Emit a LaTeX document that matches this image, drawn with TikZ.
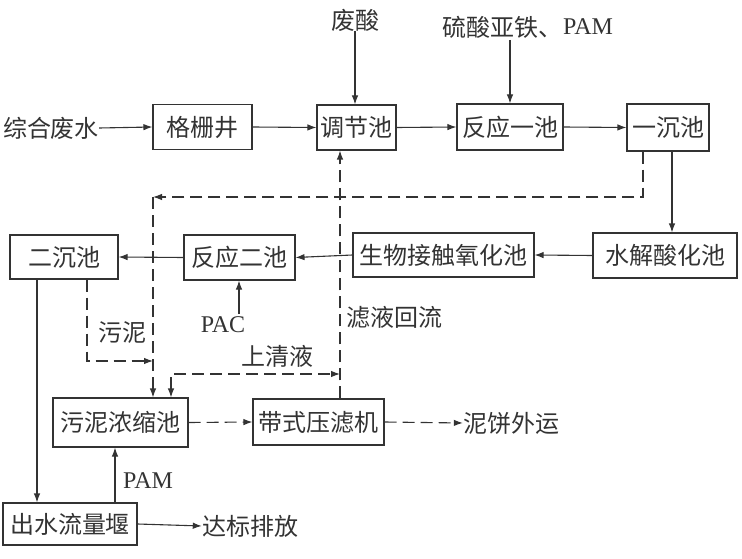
\documentclass[tikz,border=0pt]{standalone}
\usepackage{fontspec}
\setmainfont{Liberation Serif}
\newfontfamily\cjk{Noto Sans CJK SC}
\usetikzlibrary{arrows.meta}
\definecolor{ink}{HTML}{333333}
\tikzset{
  box/.style={draw=ink, line width=1.1pt, inner sep=0pt, text=ink,
    font=\cjk\fontsize{24}{26}\selectfont},
  lbl/.style={inner sep=0pt, text=ink, font=\cjk\fontsize{24}{26}\selectfont},
  latl/.style={inner sep=0pt, text=ink, font=\fontsize{24}{26}\selectfont},
  flow/.style={draw=ink, line width=1.1pt, -{Latex[length=9pt,width=6.5pt]}},
  dflow/.style={flow, dash pattern=on 12pt off 6pt},
}
\begin{document}
\begin{tikzpicture}[x=1pt,y=-1pt]
\useasboundingbox (0,0) rectangle (742,559);
% boxes
\node[box, minimum width=99pt, minimum height=45pt] (gs) at (202.5,127) {格栅井};
\node[box, minimum width=79pt, minimum height=45pt] (tj) at (356.5,127.5) {调节池};
\node[box, minimum width=106pt, minimum height=46pt] (fy1) at (510,127) {反应一池};
\node[box, minimum width=82pt, minimum height=47pt] (yc) at (668,127.5) {一沉池};
\node[box, minimum width=144pt, minimum height=45pt] (sj) at (665,255.5) {水解酸化池};
\node[box, minimum width=181pt, minimum height=44pt] (sw) at (443.5,255) {生物接触氧化池};
\node[box, minimum width=111pt, minimum height=45pt] (fy2) at (239.5,257.5) {反应二池};
\node[box, minimum width=108pt, minimum height=44pt] (ec) at (64,257) {二沉池};
\node[box, minimum width=135pt, minimum height=49pt] (wn) at (120.5,422.5) {污泥浓缩池};
\node[box, minimum width=131pt, minimum height=46pt] (dy) at (318.5,422) {带式压滤机};
\node[box, minimum width=134pt, minimum height=42pt] (cs) at (70,524) {出水流量堰};
% labels
\node[lbl] (zh) at (51,128) {综合废水};
\node[lbl] (fs) at (355,20) {废酸};
\node[lbl, anchor=east] (ls) at (563,27) {硫酸亚铁、};
\node[latl, anchor=west] (lp) at (ls.east) {PAM};
\coordinate (lstop) at (510,40);
\node[latl] (pac) at (223,325) {PAC};
\coordinate (pacs) at (239,314);
\node[lbl] (wnl) at (122,333) {污泥};
\node[lbl] (sql) at (277,356) {上清液};
\node[lbl] (lyl) at (394,317) {滤液回流};
\node[lbl] (nb) at (511,423) {泥饼外运};
\node[latl] (pam2) at (148,481) {PAM};
\node[lbl] (db) at (250,526) {达标排放};
% coordinates for bends
\coordinate (c1) at (643,197);
\coordinate (c2) at (153,197);
\coordinate (c3) at (87,361);
\coordinate (c4) at (153,361);
\coordinate (c5) at (171,374);
\coordinate (c6) at (340,374);
% main flow
\draw[flow] (zh.east) -- (gs.west);
\draw[flow] (gs.east) -- (tj.west);
\draw[flow] (tj.east) -- (fy1.west);
\draw[flow] (fy1.east) -- (yc.west);
\draw[flow] (fs.south) -- (fs.south |- tj.north);
\draw[flow] (lstop) -- (lstop |- fy1.north);
\draw[flow] (yc.south -| 672,0) -- (sj.north -| 672,0);
\draw[flow] (sj.west) -- (sw.east);
\draw[flow] (sw.west) -- (fy2.east);
\draw[flow] (fy2.west) -- (ec.west -| ec.east);
\draw[flow] (pacs) -- (pacs |- fy2.south);
\draw[flow] (ec.south -| 37,0) -- (cs.north -| 37,0);
\draw[flow] (cs.north -| 115,0) -- (wn.south -| 115,0);
\draw[flow] (cs.east) -- (db.west);
% dashed sludge lines
\draw[dflow] (yc.south -| c1) -- (c1) -- (c2);
\draw[dflow] (c2) -- (c2 |- wn.north);
\draw[dflow] (ec.south -| c3) -- (c3) -- (c4);
\draw[dflow, {Latex[length=9pt,width=6.5pt]}-{Latex[length=9pt,width=6.5pt]}] (c5 |- wn.north) -- (c5) -- (c6);
\draw[dflow] (dy.north -| c6) -- (tj.south -| c6);
\draw[dflow] (wn.east) -- (dy.west);
\draw[dflow] (dy.east) -- (nb.west);
\end{tikzpicture}
\end{document}
